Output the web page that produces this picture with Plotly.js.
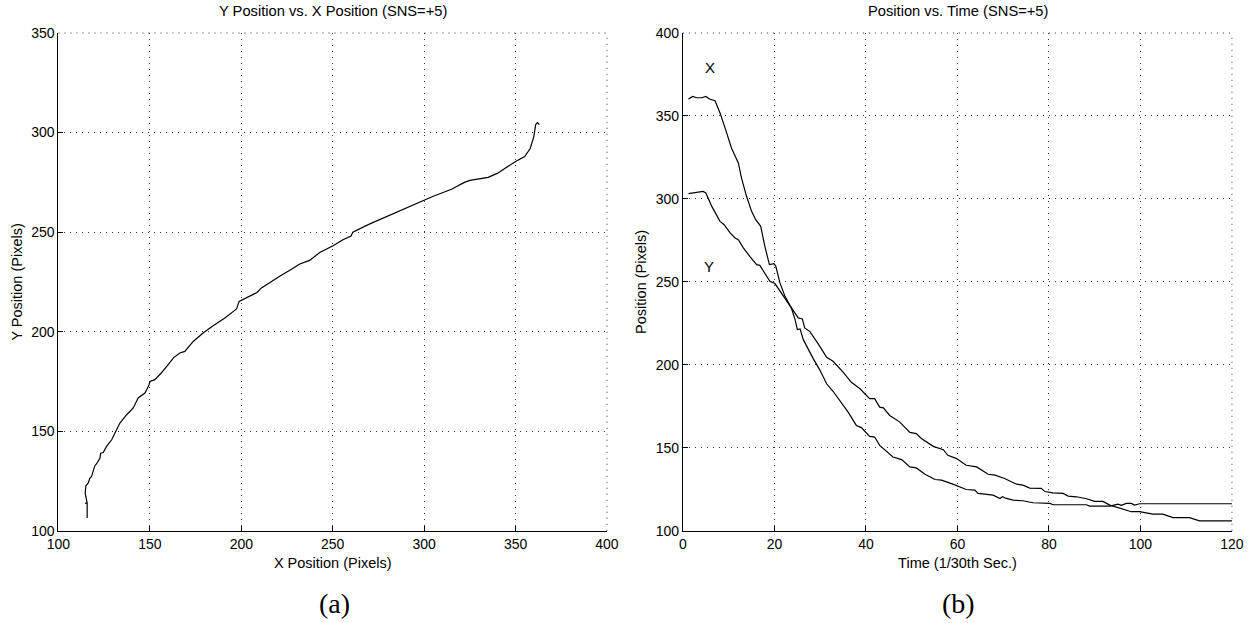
<!DOCTYPE html>
<html><head><meta charset="utf-8">
<script src="https://cdn.plot.ly/plotly-3.0.1.min.js"></script>
<style>html,body{margin:0;padding:0;background:#fff}#chart{width:1252px;height:623px}</style>
</head><body><div id="chart"></div><script>
// Left panel: Y position vs X position (pixels)
const pathX = [115.7,115.7,114.5,116,115.7,114.6,115,116.3,117.2,118.1,119,119.9,120.9,122.7,123.1,124.5,126.3,129.1,130.9,133.6,137.3,140.9,143.6,147.3,149.6,150,152.7,156,160,163,166.4,169.1,173.7,179.1,184.6,191,196.4,197.4,198.8,203.7,208.6,211,216.5,221,226.5,232,237.4,242.9,250.2,255.6,260,261,270,280,285,287,295,305,315,322,325,335,340,345,350,355,358,360,361,362,363];
const pathY = [106.4,113.9,113.9,113.9,113.9,118.9,122.6,124,126.5,127.3,130.7,132.7,133.7,136.5,139,139.3,142.4,145.7,149.1,154.1,158.3,161.7,166.7,169.2,173.4,175,175.9,179,183.5,187,189.3,190.1,195.1,199.3,203,206.9,210.7,211.4,215.2,217.4,219.7,222,225.3,227.8,230.8,234,235.8,239.8,243.2,246.2,248,250,254,258,260,261,264,268,271.5,275,276,277.5,279.5,282.5,285.5,288,292,298,304,305,304];

// Right panel: position vs time (1/30th sec.)
const timeX = [1.2,2.1,3.0,4.1,5.0,5.8,7.0,8.1,9.2,10.6,12.1,12.8,13.9,15.0,15.9,17.0,17.9,18.9,19.9,20.3,21.2,22.3,23.7,24.5,25.0,25.6,26.3,27.4,28.5,29.9,31.4,32.8,34.3,36.1,37.9,39.0,40.8,41.9,43.0,44.5,45.9,47.8,49.6,51.0,52.9,55.1,56.5,59.0,61.9,63.8,64.5,67.8,69.3,69.8,70.7,72.2,74.3,76.5,80.2,80.9,88.2,88.9,93.3,95.1,95.8,96.9,98.0,98.7,99.8,120];
const posX = [360.2,361.8,361,361,361.8,360.2,359.2,351.8,342.8,330.7,321.7,312.6,301.6,292.5,287.5,283.5,271.4,260.4,261,259.4,249.4,241.3,234.3,227.3,221.3,221.7,215.2,209.2,203.6,197,188.6,184.1,178.6,171.5,163.5,162.2,156.9,156.5,151.5,148.1,144.5,142.9,138.5,137.9,134.1,130.9,130.5,128.1,124.9,124.5,122.5,121.5,119.5,120.5,119.5,118.5,118.1,116.9,116.5,115.7,115.7,114.9,114.9,116.1,115.3,116.5,116.5,115.5,116.3,116.3];
const timeY = [1.2,2.2,3.6,4.4,5.0,6.3,8.1,9.0,10.3,11.4,12.1,13.2,14.6,16.1,16.8,17.9,19.0,20.1,21.9,23.7,25.2,26.1,26.6,27.7,29.6,31.4,32.8,35.0,36.8,38.7,40.8,41.9,43.0,43.8,45.2,47.4,49.6,51.0,52.1,54.7,56.9,57.9,59.8,61.9,64.2,66.7,68.2,70.3,72.9,74.3,75.8,78.3,79.1,80.9,83.1,84.2,86.0,88.2,90.0,91.8,93.3,95.5,98.0,99.8,100.9,102.7,104.9,107.1,110.7,112.9,120];
const posY = [303.2,303.6,304.6,304.6,303.6,295.5,286.5,284.5,279.5,276.5,275.5,270.5,265.4,260.4,260,255.4,250.4,249,241.3,234.3,228.3,227.7,222.3,220.2,212.5,204.6,202.2,195.6,189.5,185.6,179.6,179.6,174.5,174.1,169.5,165.5,159.3,158.6,155.6,150.9,148.9,145.5,143.5,139.5,138.5,134.1,133.5,131.5,128.1,127.5,125.7,125.6,123.7,122.9,122.5,120.9,120.5,119.3,117.7,117.7,115.5,113.5,111.5,111.5,111,110,110,107.9,107.9,106,106];

const leftTitle = 'Y Position vs. X Position (SNS=+5)';
const rightTitle = 'Position vs. Time (SNS=+5)';

const sans = 'Liberation Sans, Arial, sans-serif';
const serif = 'Liberation Serif, DejaVu Serif, serif';
const tickFont = {family: sans, size: 14, color: '#000'};
const gridDash = '1px,5px';
const gridColor = '#333';
const axisBase = {
  showline: true, linecolor: '#000', linewidth: 1, mirror: false,
  ticks: 'inside', ticklen: 5, tickcolor: '#000', tickwidth: 1,
  showgrid: true, gridcolor: gridColor, gridwidth: 1, griddash: gridDash,
  zeroline: false, tickfont: tickFont, fixedrange: true
};
const line = {color: '#000', width: 1.2};

const traces = [
  {x: pathX, y: pathY, type: 'scatter', mode: 'lines', line: line, xaxis: 'x', yaxis: 'y', hoverinfo: 'skip'},
  {x: timeX, y: posX, type: 'scatter', mode: 'lines', line: line, xaxis: 'x2', yaxis: 'y2', hoverinfo: 'skip'},
  {x: timeY, y: posY, type: 'scatter', mode: 'lines', line: line, xaxis: 'x2', yaxis: 'y2', hoverinfo: 'skip'}
];

function edgeLines(xa, ya) {
  const st = {color: gridColor, width: 1, dash: gridDash};
  return [
    {type: 'line', xref: xa + ' domain', yref: ya + ' domain', x0: 0, x1: 1, y0: 1, y1: 1, line: st, layer: 'below'},
    {type: 'line', xref: xa + ' domain', yref: ya + ' domain', x0: 1, x1: 1, y0: 0, y1: 1, line: st, layer: 'below'}
  ];
}

const yDom = [0.148, 0.947];
const titleFont = {family: sans, size: 14.5, color: '#000'};
const layout = {
  width: 1252, height: 623, showlegend: false,
  paper_bgcolor: '#fff', plot_bgcolor: '#fff',
  margin: {l: 0, r: 0, t: 0, b: 0},
  xaxis: Object.assign({}, axisBase, {domain: [0.0467, 0.4848], range: [100, 400], tick0: 100, dtick: 50, anchor: 'y',
    title: {text: 'X Position (Pixels)', font: titleFont, standoff: 7}}),
  yaxis: Object.assign({}, axisBase, {domain: yDom, range: [100, 350], tick0: 100, dtick: 50, anchor: 'x',
    title: {text: 'Y Position (Pixels)', font: titleFont, standoff: 5}}),
  xaxis2: Object.assign({}, axisBase, {domain: [0.5455, 0.984], range: [0, 120], tick0: 0, dtick: 20, anchor: 'y2',
    title: {text: 'Time (1/30th Sec.)', font: titleFont, standoff: 7}}),
  yaxis2: Object.assign({}, axisBase, {domain: yDom, range: [100, 400], tick0: 100, dtick: 50, anchor: 'x2',
    title: {text: 'Position (Pixels)', font: titleFont, standoff: 5}}),
  shapes: edgeLines('x', 'y').concat(edgeLines('x2', 'y2')),
  annotations: [
    {text: leftTitle, xref: 'paper', yref: 'paper', x: 0.2658, y: 0.982, showarrow: false, font: {family: sans, size: 14.7, color: '#000'}, xanchor: 'center', yanchor: 'middle'},
    {text: rightTitle, xref: 'paper', yref: 'paper', x: 0.7648, y: 0.982, showarrow: false, font: {family: sans, size: 14.7, color: '#000'}, xanchor: 'center', yanchor: 'middle'},
    {text: 'X', xref: 'x2', yref: 'y2', x: 5.9, y: 379.5, showarrow: false, font: {family: sans, size: 15, color: '#000'}, xanchor: 'center', yanchor: 'middle'},
    {text: 'Y', xref: 'x2', yref: 'y2', x: 5.7, y: 259.4, showarrow: false, font: {family: sans, size: 15, color: '#000'}, xanchor: 'center', yanchor: 'middle'},
    {text: '(a)', xref: 'paper', yref: 'paper', x: 0.2668, y: 0.031, showarrow: false, font: {family: serif, size: 28, color: '#000'}, xanchor: 'center', yanchor: 'middle'},
    {text: '(b)', xref: 'paper', yref: 'paper', x: 0.7652, y: 0.031, showarrow: false, font: {family: serif, size: 28, color: '#000'}, xanchor: 'center', yanchor: 'middle'}
  ]
};
Plotly.newPlot('chart', traces, layout, {displayModeBar: false, staticPlot: true});
</script></body></html>
